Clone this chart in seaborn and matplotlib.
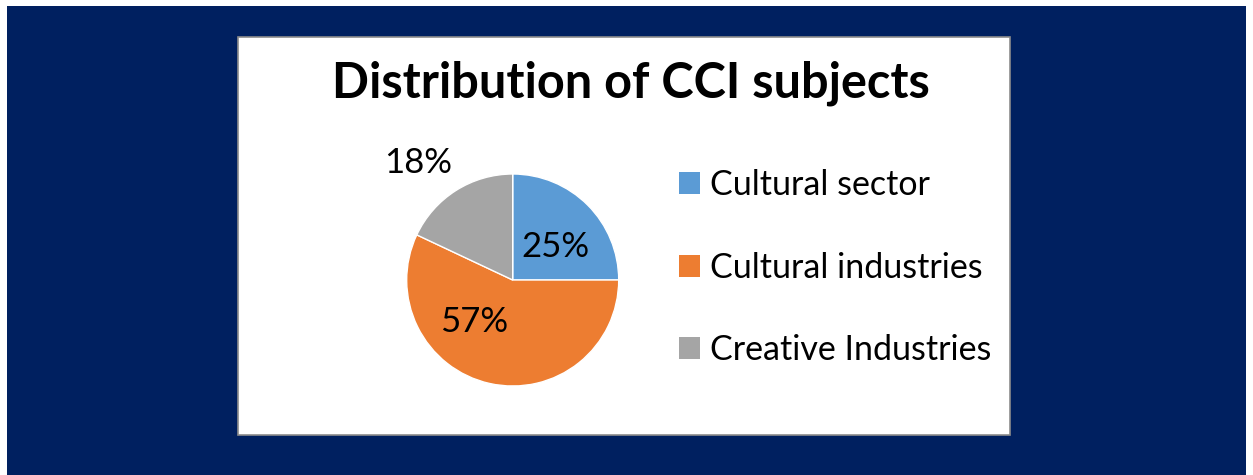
import matplotlib
matplotlib.use("Agg")
import matplotlib.pyplot as plt
import matplotlib.patches as mpatches
import seaborn as sns

categories = ["Cultural sector", "Cultural industries", "Creative Industries"]
shares = [25, 57, 18]
colors = ["#5B9BD5", "#ED7D31", "#A5A5A5"]
title = "Distribution of CCI subjects"

sns.set_theme(style="white")
plt.rcParams["font.family"] = ["Lato", "DejaVu Sans"]
plt.rcParams["text.color"] = "black"

W, H = 1253, 475
fig = plt.figure(figsize=(W / 100, H / 100), dpi=100)
fig.patch.set_facecolor("#002060")

def px_rect(x0, y0, x1, y1, **kw):
    r = mpatches.Rectangle((x0 / W, 1 - y1 / H), (x1 - x0) / W, (y1 - y0) / H,
                           transform=fig.transFigure, zorder=0.5, **kw)
    fig.patches.append(r)

px_rect(0, 0, W, 6, facecolor="white", edgecolor="none")
px_rect(0, 0, 7, H, facecolor="white", edgecolor="none")
px_rect(1246, 0, W, H, facecolor="white", edgecolor="none")
px_rect(238, 37, 1010, 435, facecolor="white", edgecolor="#8C8C8C", linewidth=1.2)

fig.text(631 / W, 1 - 98 / H, title, ha="center", va="baseline",
         fontsize=35, fontweight="bold", color="black", zorder=3)

cx, cy, r = 512.7, 280, 106
half = 1.5 * r
ax = fig.add_axes([(cx - half) / W, (H - cy - half) / H, 2 * half / W, 2 * half / H])
ax.set_zorder(5)
ax.set_facecolor("none")
wedges, texts, autotexts = ax.pie(
    shares, colors=colors, startangle=90, counterclock=False,
    autopct=lambda p: f"{p:.0f}%",
    wedgeprops=dict(edgecolor="white", linewidth=1),
    textprops=dict(fontsize=25, color="black"),
)
ax.set_xlim(-1.5, 1.5)
ax.set_ylim(-1.5, 1.5)
ax.set_aspect("equal")
ax.axis("off")
label_pos = [(0.40, 0.31), (-0.36, -0.40), (-0.89, 1.10)]
for t, (x, y) in zip(autotexts, label_pos):
    t.set_position((x, y))
    t.set_ha("center")
    t.set_va("center")

handles = [mpatches.Patch(facecolor=c, edgecolor="none") for c in colors]
leg = fig.legend(handles, categories, loc="upper left",
                 bbox_to_anchor=(679 / W, 1 - 169 / H), frameon=False,
                 fontsize=24.5, handlelength=0.62, handleheight=0.62,
                 handletextpad=0.3, labelspacing=1.49, borderpad=0, borderaxespad=0)
for t in leg.get_texts():
    t.set_color("black")
leg.set_zorder(6)

fig.savefig("out.png", dpi=100, facecolor=fig.get_facecolor())
